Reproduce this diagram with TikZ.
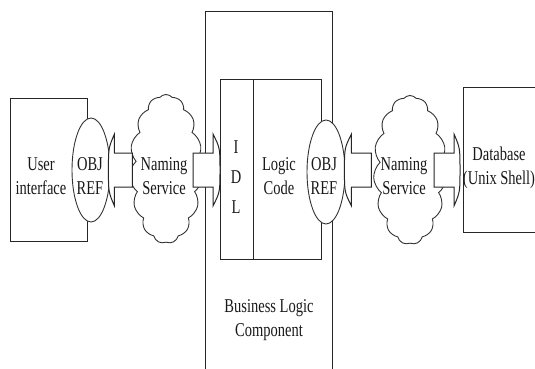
\documentclass[tikz,border=0pt]{standalone}
\usepackage{fontspec}
\setmainfont{Liberation Serif}
\usetikzlibrary{shapes.symbols,shapes.geometric,calc}

% text lines are set slightly stretched vertically
\newcommand{\tall}[1]{\scalebox{1}[1.35]{#1}}

% block arrow: shaft from #1 to the head base #2, head ending at tip #3
\newcommand{\blockarrow}[3]{%
  \filldraw[arrowbody]
    ($(#1)+(0,-17)$) -- ($(#2)+(0,-17)$) -- ($(#2)+(0,-36)$)
    .. controls ($(#3)+(0,-22)$) .. (#3)
    .. controls ($(#3)+(0,22)$) .. ($(#2)+(0,36)$)
    -- ($(#2)+(0,17)$) -- ($(#1)+(0,17)$) -- cycle;}

\begin{document}
\begin{tikzpicture}[x=1pt,y=-1pt,
  frame/.style={draw=black!85, line width=1.1pt},
  bx/.style={frame, rectangle, inner sep=0pt, anchor=north west},
  objref/.style={draw=black!80, line width=0.9pt, fill=white, ellipse,
    inner sep=0pt, minimum width=38pt, minimum height=104pt},
  naming/.style={draw=black!80, line width=0.9pt, fill=white, cloud,
    cloud puffs=15, cloud puff arc=100, cloud ignores aspect,
    inner sep=0pt, minimum width=73pt, minimum height=149pt},
  arrowbody/.style={draw=black!85, line width=1pt, fill=white, line join=miter},
  lbl/.style={font=\fontsize{14.5}{24}\selectfont, align=center,
    inner sep=0pt, text=black!90},
]
\useasboundingbox (0,0) rectangle (535,369);
\clip (0,0) rectangle (535,369);

% boxes
\node[bx, minimum width=127pt, minimum height=380pt] (blc) at (205,11) {};
\node[bx, minimum width=33pt, minimum height=180pt] (idl) at (220,79) {};
\node[bx, minimum width=68pt, minimum height=180pt] (logic) at (253,79) {};
\node[bx, minimum width=77pt, minimum height=143pt] (ui) at (10,98) {};
\node[bx, minimum width=100pt, minimum height=145pt] (db) at (463,87) {};

% naming service clouds
\node[naming] (ns1) at (166,169) {};
\node[naming] (ns2) at (410,170) {};

% object references
\node[objref] (or1) at (91,170) {};
\node[objref] (or2) at (326,172) {};

% arrow end points
\coordinate (a1tip)  at ($(or1.east)+(-2,0)$);
\coordinate (a1base) at ($(a1tip)+(6,0)$);
\coordinate (a1back) at ($(a1tip)+(24,0)$);

\coordinate (a2tip)  at (idl.west |- or1.east);
\coordinate (a2base) at ($(a2tip)+(-7,0)$);
\coordinate (a2back) at ($(a2tip)+(-27,0)$);

\coordinate (a3tip)  at ($(or2.east |- or1.east)+(-1,0)$);
\coordinate (a3base) at ($(a3tip)+(7,0)$);
\coordinate (a3back) at ($(a3tip)+(27,0)$);

\coordinate (a4tip)  at ($(db.west |- or1.east)+(-3,0)$);
\coordinate (a4base) at ($(a4tip)+(-6,0)$);
\coordinate (a4back) at ($(a4tip)+(-26,0)$);

\blockarrow{a1back}{a1base}{a1tip}
\blockarrow{a2back}{a2base}{a2tip}
\blockarrow{a3back}{a3base}{a3tip}
\blockarrow{a4back}{a4base}{a4tip}

% labels
\node[lbl] (tui) at (41,176) {\tall{User}\\\tall{interface}};
\node[lbl] (tor1) at (90,176) {\tall{OBJ}\\\tall{REF}};
\node[lbl] (tns1) at (164,176) {\tall{Naming}\\\tall{Service}};
\node[lbl, font=\fontsize{14.5}{30}\selectfont] (tidl) at (236,177) {\tall{I}\\\tall{D}\\\tall{L}};
\node[lbl] (tlogic) at (279,176) {\tall{Logic}\\\tall{Code}};
\node[lbl] (tor2) at (324,176) {\tall{OBJ}\\\tall{REF}};
\node[lbl] (tns2) at (404,176) {\tall{Naming}\\\tall{Service}};
\node[lbl] (tdb) at (499,168) {\tall{Database}\\\tall{(Unix Shell)}};
\node[lbl] (tblc) at (269,320) {\tall{Business Logic}\\\tall{Component}};
\end{tikzpicture}
\end{document}
